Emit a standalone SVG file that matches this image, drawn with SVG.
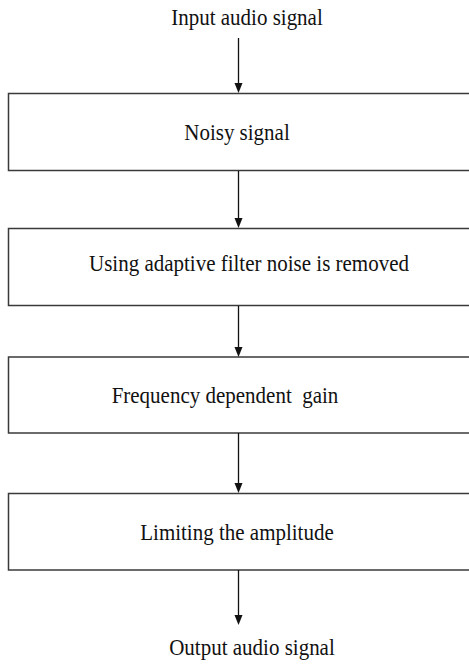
<svg xmlns="http://www.w3.org/2000/svg" width="469" height="664" viewBox="0 0 469 664">
<style>
.box{fill:#fff;stroke:#3a3a3a;stroke-width:1.5}
.lbl{font-family:'Liberation Serif','DejaVu Serif',serif;font-size:21px;fill:#111;text-anchor:middle}
.con{stroke:#111;stroke-width:1.3;fill:none}
.hd{fill:#111}
</style>
<rect width="469" height="664" fill="#fff"/>
<g id="input"><text class="lbl" x="247" y="25" transform="translate(247 25) scale(1 1.1) translate(-247 -25)">Input audio signal</text></g>
<g id="n1"><rect class="box" x="8.5" y="93.5" width="480" height="77"/><text class="lbl" x="237" y="140" transform="translate(237 140) scale(1 1.1) translate(-237 -140)">Noisy signal</text></g>
<g id="n2"><rect class="box" x="8.5" y="228.5" width="480" height="77"/><text class="lbl" x="249" y="271" transform="translate(249 271) scale(1 1.1) translate(-249 -271)">Using adaptive filter noise is removed</text></g>
<g id="n3"><rect class="box" x="8.5" y="357" width="480" height="76"/><text class="lbl" x="225" y="403" transform="translate(225 403) scale(1 1.1) translate(-225 -403)">Frequency dependent&#160; gain</text></g>
<g id="n4"><rect class="box" x="8.5" y="493.5" width="480" height="76.5"/><text class="lbl" x="237" y="540" transform="translate(237 540) scale(1 1.1) translate(-237 -540)">Limiting the amplitude</text></g>
<g id="output"><text class="lbl" x="252" y="655" transform="translate(252 655) scale(1 1.1) translate(-252 -655)">Output audio signal</text></g>
<g id="connectors">
<line class="con" x1="238.5" y1="38" x2="238.5" y2="84"/><path class="hd" d="M234.5 83 L242.5 83 L238.5 93 Z"/>
<line class="con" x1="238.5" y1="171" x2="238.5" y2="219"/><path class="hd" d="M234.5 218 L242.5 218 L238.5 228 Z"/>
<line class="con" x1="238.5" y1="306" x2="238.5" y2="348"/><path class="hd" d="M234.5 347 L242.5 347 L238.5 357 Z"/>
<line class="con" x1="238.5" y1="433" x2="238.5" y2="484"/><path class="hd" d="M234.5 483 L242.5 483 L238.5 493 Z"/>
<line class="con" x1="238.5" y1="570" x2="238.5" y2="616"/><path class="hd" d="M234.5 615 L242.5 615 L238.5 625 Z"/>
</g>
</svg>
